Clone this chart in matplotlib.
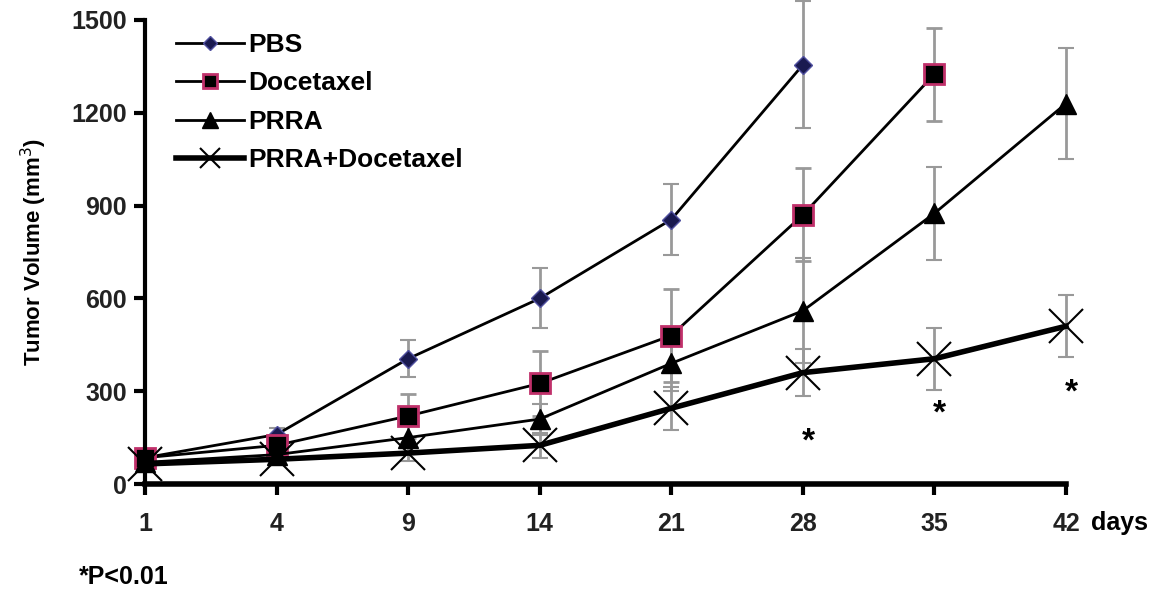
import matplotlib.pyplot as plt
from matplotlib.lines import Line2D

days = ['1', '4', '9', '14', '21', '28', '35', '42']

pbs = [85, 160, 405, 600, 855, 1355]
pbs_err = [15, 20, 60, 97, 115, 205]
doc = [85, 125, 220, 325, 480, 870, 1325]
doc_err = [10, 15, 70, 105, 150, 150, 150]
prra = [70, 95, 150, 210, 390, 560, 875, 1230]
prra_err = [10, 15, 45, 50, 90, 170, 150, 180]
combo = [65, 80, 100, 125, 245, 360, 405, 510]
combo_err = [10, 10, 25, 40, 70, 75, 100, 100]

star_days = [5, 6, 7]
star_y = [135, 225, 295]

plt.rcParams['font.family'] = ['Liberation Sans', 'DejaVu Sans']
fig = plt.figure(figsize=(11.63, 5.98), dpi=100)
ax = fig.add_axes([0.1247, 0.1906, 0.7919, 0.776])

x = list(range(len(days)))
ekw = dict(ecolor='#999999', elinewidth=2, capsize=6, capthick=1.5, clip_on=False)

pbs_style = dict(color='black', lw=2, marker='D', ms=9, mfc='#1a1a50', mec='#5050a0')
doc_style = dict(color='black', lw=2, marker='s', ms=14, mfc='black', mec='#c0306a', mew=2)
prra_style = dict(color='black', lw=2, marker='^', ms=14, mfc='black', mec='black')
combo_style = dict(color='black', lw=4, marker='x', ms=24, mew=1.5)

ax.errorbar(x[:len(pbs)], pbs, yerr=pbs_err, **pbs_style, **ekw)
ax.errorbar(x[:len(doc)], doc, yerr=doc_err, **doc_style, **ekw)
ax.errorbar(x, prra, yerr=prra_err, **prra_style, **ekw)
ax.errorbar(x, combo, yerr=combo_err, **combo_style, **ekw)

for sx, sy in zip(star_days, star_y):
    ax.text(sx + 0.04, sy, '*', fontsize=24, fontweight='bold', ha='center', va='center')

ax.set_xlim(0, 7)
ax.set_ylim(0, 1500)
ax.set_yticks([0, 300, 600, 900, 1200, 1500])
ax.set_xticks(x)
ax.set_xticklabels(days)
for s in ['top', 'right']:
    ax.spines[s].set_visible(False)
ax.spines['left'].set_linewidth(3)
ax.spines['bottom'].set_linewidth(4)
ax.tick_params(width=3, length=8, labelsize=18)
ax.tick_params(axis='x', pad=12)
ax.tick_params(axis='y', pad=5)
for lab in ax.get_xticklabels() + ax.get_yticklabels():
    lab.set_fontweight('bold')
    lab.set_color('#222222')

ax.set_ylabel('Tumor Volume (mm$^3$)', fontsize=16, fontweight='bold', labelpad=16)
fig.text(0.938, 0.125, 'days', fontsize=18, fontweight='bold', ha='left', va='center')
fig.text(0.068, 0.035, '*P<0.01', fontsize=18, fontweight='bold', ha='left', va='center')

handles = [
    Line2D([], [], **dict(pbs_style, ms=7)),
    Line2D([], [], **dict(doc_style, ms=10)),
    Line2D([], [], **dict(prra_style, ms=11)),
    Line2D([], [], **dict(combo_style, ms=14)),
]
labels = ['PBS', 'Docetaxel', 'PRRA', 'PRRA+Docetaxel']
leg = ax.legend(handles, labels, loc='upper left', bbox_to_anchor=(0.022, 0.995), frameon=False,
                fontsize=19, handlelength=2.6, handletextpad=0.15, labelspacing=0.55,
                borderaxespad=0)
for t in leg.get_texts():
    t.set_fontweight('bold')

fig.savefig('out.png', dpi=100)
